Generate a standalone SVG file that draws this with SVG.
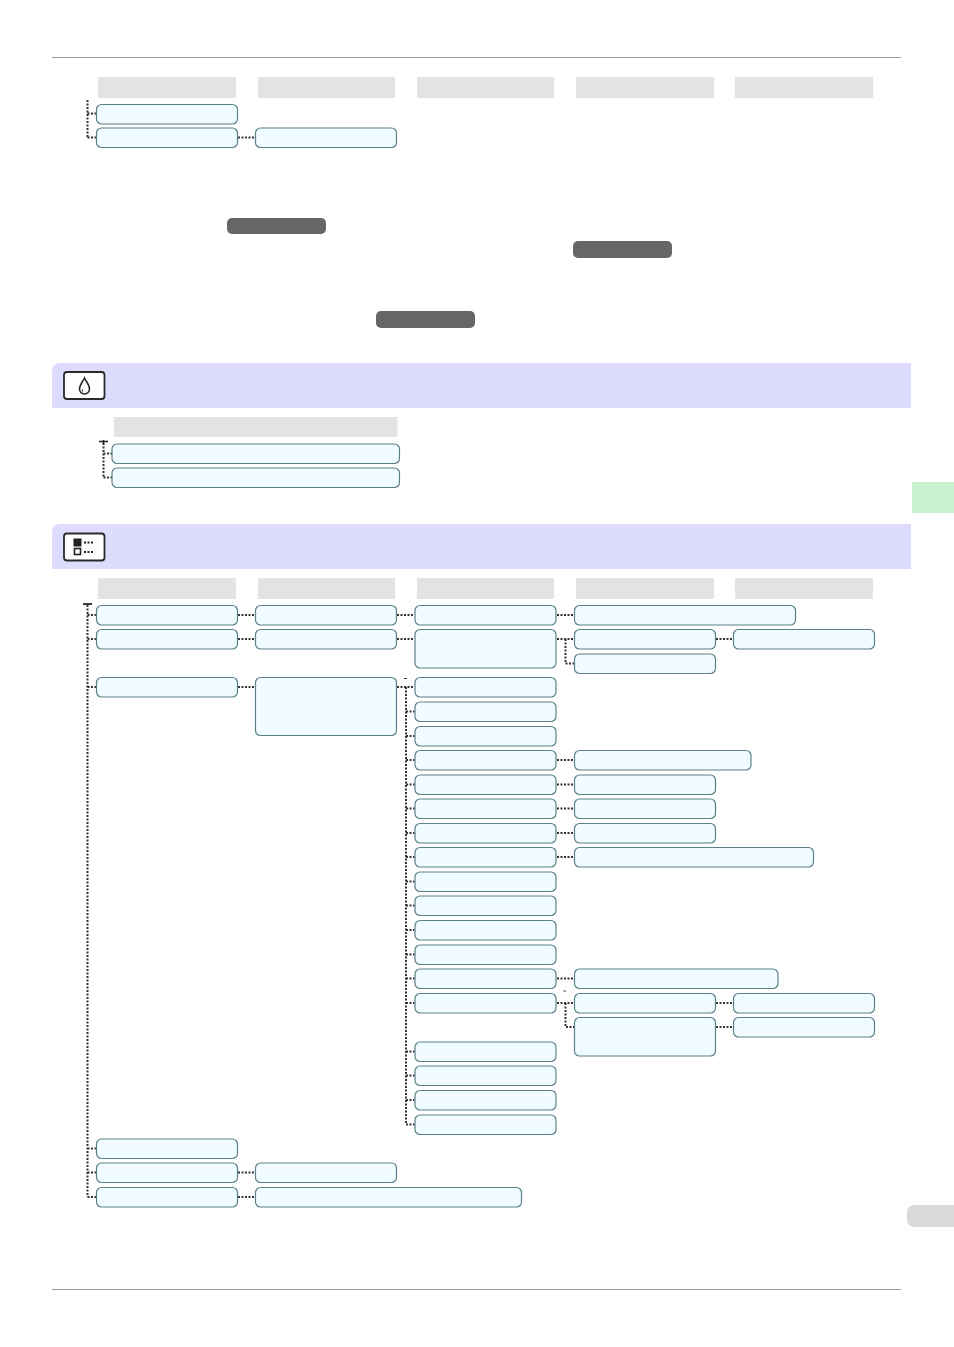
<svg xmlns="http://www.w3.org/2000/svg" width="954" height="1347" viewBox="0 0 954 1347">
<style>
.n{fill:#f0fcff;stroke:#5a8088;stroke-width:1.2}
.h{fill:#e3e3e3}
.b{fill:#666}
.c{fill:none;stroke:#333;stroke-width:2;stroke-dasharray:2 1.5}
.r{fill:none;stroke:#9a9a9a;stroke-width:1}
.bn{fill:#dddcff}
.i{fill:#fff;stroke:#2a2a2a;stroke-width:1.8}
.t{fill:none;stroke:#222;stroke-width:1.5}
</style>
<rect width="954" height="1347" fill="#fff"/>
<path class="r" d="M52 57.5H901M52 1289.5H901"/>
<g id="headers-top"><rect class="h" x="98" y="77" width="138" height="21"/><rect class="h" x="258" y="77" width="137" height="21"/><rect class="h" x="417" y="77" width="137" height="21"/><rect class="h" x="576" y="77" width="138" height="21"/><rect class="h" x="735" y="77" width="138" height="21"/></g>
<g id="badges"><rect class="b" x="227" y="218" width="99" height="16" rx="5"/><rect class="b" x="573" y="241" width="99" height="17" rx="5"/><rect class="b" x="376" y="311" width="99" height="17" rx="5"/></g>
<g id="banner-ink"><path class="bn" d="M52 408V371a8 8 0 0 1 8-8H911V408Z"/><rect class="i" x="64" y="372" width="40.500" height="27" rx="3"/><path class="t" d="M84.500 378c-1.500 3.500-5 6.500-5 11a5 5 0 0 0 10 0c0-4.500-3.500-7.500-5-11Z"/><path d="M82.500 389.500v2" fill="none" stroke="#222" stroke-width="1"/></g>
<g id="banner-settings"><path class="bn" d="M52 569V532a8 8 0 0 1 8-8H911V569Z"/><rect class="i" x="64" y="533.500" width="40.500" height="27" rx="3"/><rect x="73.500" y="538.500" width="8" height="8" fill="#222"/><rect x="74.500" y="548.500" width="6" height="6" fill="#fff" stroke="#222" stroke-width="1.600"/><path d="M84 542.500H94M84 552H94" fill="none" stroke="#222" stroke-width="2.200" stroke-dasharray="2 1.500"/></g>
<g id="side-tab"><rect x="912" y="482" width="42" height="31" fill="#c8f2cf"/></g>
<g id="page-tab"><path d="M954 1205H914a7 7 0 0 0-7 7v8a7 7 0 0 0 7 7H954Z" fill="#d9d9d9"/></g>
<g id="headers-ink"><rect class="h" x="114" y="417" width="283.500" height="20"/></g>
<g id="headers-settings"><rect class="h" x="98" y="578" width="138" height="21"/><rect class="h" x="258" y="578" width="137" height="21"/><rect class="h" x="417" y="578" width="137" height="21"/><rect class="h" x="576" y="578" width="138" height="21"/><rect class="h" x="735" y="578" width="138" height="21"/></g>
<g id="connectors">
<path class="c" d="M87.500 100V137.500M87.500 113.500H96M87.500 137.500H96M238 137.500H255"/>
<path class="c" d="M103.500 443V477.500M103.500 453.500H112M103.500 477.500H112"/>
<path d="M99 441.500H108M103.500 440V444" fill="none" stroke="#222" stroke-width="1.500"/>
<path d="M83 604H92" fill="none" stroke="#222" stroke-width="1.800"/>
<path class="c" d="M87.500 605V1197M87.500 615H96M87.500 639H96M87.500 687H96M87.500 1148.500H96M87.500 1172.500H96M87.500 1197H96"/>
<path class="c" d="M238 615H255M397 615H414.500M557 615H574.500M238 639H255M397 639H414.500M557 639H574.500M716 639H733.500M565.500 639V663.500H574.500"/>
<path class="c" d="M238 687H255M397 687H414.500M406 687V1124.500"/>
<path class="c" d="M406 711.500H414.500M406 736H414.500M406 760H414.500M406 784.500H414.500M406 808.500H414.500M406 833H414.500M406 857H414.500M406 881.500H414.500M406 905.500H414.500M406 930H414.500M406 954.500H414.500M406 978.500H414.500M406 1003H414.500M406 1051.500H414.500M406 1075.500H414.500M406 1100H414.500M406 1124.500H414.500"/>
<path class="c" d="M557 760H574.500M557 784.500H574.500M557 808.500H574.500M557 833H574.500M557 857H574.500M557 978.500H574.500M557 1003H574.500M716 1003H733.500M565.500 1003V1027H574.500M716 1027H733.500"/>
<path class="c" d="M238 1172.500H255M238 1197H255"/>
<path d="M404 678.500H407M563.500 991H566" fill="none" stroke="#333" stroke-width="1"/>
</g>
<g id="n1"><rect class="n" x="96.500" y="104.500" width="141" height="19.500" rx="5"/></g>
<g id="n2"><rect class="n" x="96.500" y="128" width="141" height="19.500" rx="5"/></g>
<g id="n3"><rect class="n" x="255.500" y="128" width="141" height="19.500" rx="5"/></g>
<g id="n4"><rect class="n" x="112" y="444" width="287.500" height="19.500" rx="5"/></g>
<g id="n5"><rect class="n" x="112" y="468" width="287.500" height="19.500" rx="5"/></g>
<g id="s1"><rect class="n" x="96.500" y="605.500" width="141" height="19.500" rx="5"/></g>
<g id="s2"><rect class="n" x="255.500" y="605.500" width="141" height="19.500" rx="5"/></g>
<g id="s3"><rect class="n" x="415" y="605.500" width="141" height="19.500" rx="5"/></g>
<g id="s4"><rect class="n" x="574.500" y="605.500" width="221" height="19.500" rx="5"/></g>
<g id="s5"><rect class="n" x="96.500" y="629.500" width="141" height="19.500" rx="5"/></g>
<g id="s6"><rect class="n" x="255.500" y="629.500" width="141" height="19.500" rx="5"/></g>
<g id="s7"><rect class="n" x="415" y="629.500" width="141" height="38.500" rx="5"/></g>
<g id="s8"><rect class="n" x="574.500" y="629.500" width="141" height="19.500" rx="5"/></g>
<g id="s9"><rect class="n" x="733.500" y="629.500" width="141" height="19.500" rx="5"/></g>
<g id="s10"><rect class="n" x="574.500" y="654" width="141" height="19.500" rx="5"/></g>
<g id="s11"><rect class="n" x="96.500" y="677.500" width="141" height="19.500" rx="5"/></g>
<g id="s12"><rect class="n" x="255.500" y="677.500" width="141" height="58" rx="5"/></g>
<g id="s13"><rect class="n" x="415" y="677.500" width="141" height="19.500" rx="5"/></g>
<g id="s14"><rect class="n" x="415" y="702" width="141" height="19.500" rx="5"/></g>
<g id="s15"><rect class="n" x="415" y="726.500" width="141" height="19.500" rx="5"/></g>
<g id="s16"><rect class="n" x="415" y="750.500" width="141" height="19.500" rx="5"/></g>
<g id="s17"><rect class="n" x="415" y="775" width="141" height="19.500" rx="5"/></g>
<g id="s18"><rect class="n" x="415" y="799" width="141" height="19.500" rx="5"/></g>
<g id="s19"><rect class="n" x="415" y="823.500" width="141" height="19.500" rx="5"/></g>
<g id="s20"><rect class="n" x="415" y="847.500" width="141" height="19.500" rx="5"/></g>
<g id="s21"><rect class="n" x="415" y="872" width="141" height="19.500" rx="5"/></g>
<g id="s22"><rect class="n" x="415" y="896" width="141" height="19.500" rx="5"/></g>
<g id="s23"><rect class="n" x="415" y="920.500" width="141" height="19.500" rx="5"/></g>
<g id="s24"><rect class="n" x="415" y="945" width="141" height="19.500" rx="5"/></g>
<g id="s25"><rect class="n" x="415" y="969" width="141" height="19.500" rx="5"/></g>
<g id="s26"><rect class="n" x="415" y="993.500" width="141" height="19.500" rx="5"/></g>
<g id="s27"><rect class="n" x="415" y="1042" width="141" height="19.500" rx="5"/></g>
<g id="s28"><rect class="n" x="415" y="1066" width="141" height="19.500" rx="5"/></g>
<g id="s29"><rect class="n" x="415" y="1090.500" width="141" height="19.500" rx="5"/></g>
<g id="s30"><rect class="n" x="415" y="1115" width="141" height="19.500" rx="5"/></g>
<g id="s31"><rect class="n" x="574.500" y="750.500" width="176.500" height="19.500" rx="5"/></g>
<g id="s32"><rect class="n" x="574.500" y="775" width="141" height="19.500" rx="5"/></g>
<g id="s33"><rect class="n" x="574.500" y="799" width="141" height="19.500" rx="5"/></g>
<g id="s34"><rect class="n" x="574.500" y="823.500" width="141" height="19.500" rx="5"/></g>
<g id="s35"><rect class="n" x="574.500" y="847.500" width="239" height="19.500" rx="5"/></g>
<g id="s36"><rect class="n" x="574.500" y="969" width="203.500" height="19.500" rx="5"/></g>
<g id="s37"><rect class="n" x="574.500" y="993.500" width="141" height="19.500" rx="5"/></g>
<g id="s38"><rect class="n" x="733.500" y="993.500" width="141" height="19.500" rx="5"/></g>
<g id="s39"><rect class="n" x="574.500" y="1017.500" width="141" height="38.500" rx="5"/></g>
<g id="s40"><rect class="n" x="733.500" y="1017.500" width="141" height="19.500" rx="5"/></g>
<g id="s41"><rect class="n" x="96.500" y="1139" width="141" height="19.500" rx="5"/></g>
<g id="s42"><rect class="n" x="96.500" y="1163" width="141" height="19.500" rx="5"/></g>
<g id="s43"><rect class="n" x="255.500" y="1163" width="141" height="19.500" rx="5"/></g>
<g id="s44"><rect class="n" x="96.500" y="1187.500" width="141" height="19.500" rx="5"/></g>
<g id="s45"><rect class="n" x="255.500" y="1187.500" width="266" height="19.500" rx="5"/></g>
</svg>
